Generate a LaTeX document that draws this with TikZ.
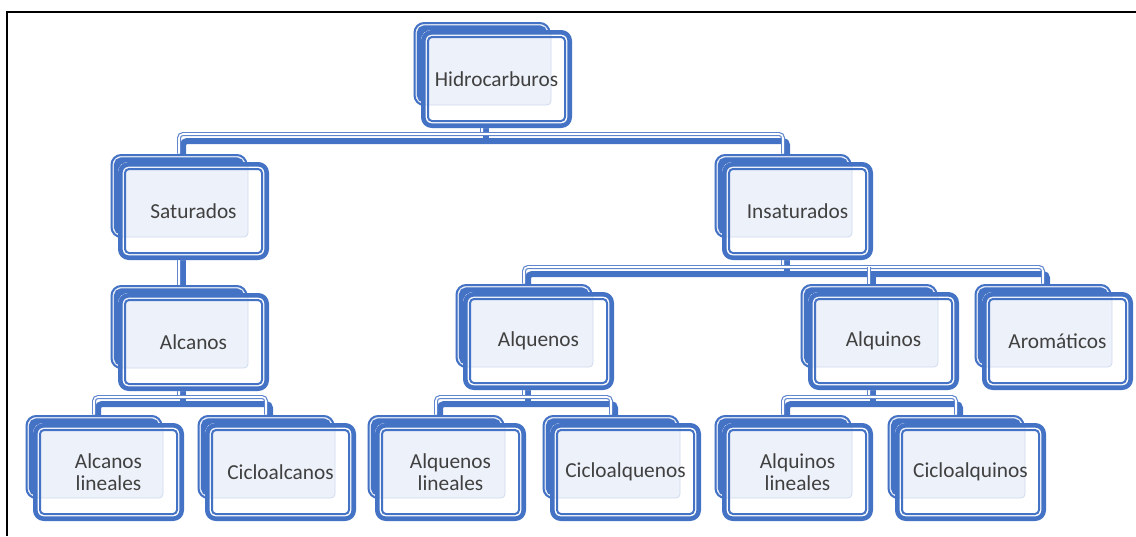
\documentclass[tikz,border=0pt]{standalone}
\usepackage{fontspec}
\setmainfont{Carlito}
\usetikzlibrary{calc,backgrounds}
\definecolor{boxblue}{RGB}{68,114,196}
\definecolor{boxfill}{RGB}{232,237,247}
\definecolor{textgray}{RGB}{64,64,64}

\tikzstyle{back box}=[rounded corners=8pt, minimum width=102.75pt, minimum height=63pt, inner sep=0pt, fill=boxfill, path picture={
	\draw[boxblue, line width=3pt, rounded corners=8pt] (path picture bounding box.south west) rectangle (path picture bounding box.north east);
	\draw[boxblue, line width=5pt, rounded corners=3pt] ([shift={(5.1pt,5.1pt)}]path picture bounding box.south west) rectangle ([shift={(-5.1pt,-5.1pt)}]path picture bounding box.north east);}]
\tikzstyle{front box}=[rounded corners=8pt, minimum width=113.25pt, minimum height=73.5pt, inner sep=2pt, align=center, text=textgray, font=\fontsize{16}{17}\selectfont, fill=white, path picture={
	\draw[boxblue!25, fill=boxfill!80, rounded corners=3pt, line width=0.6pt] (path picture bounding box.north west) rectangle ([shift={(-15.75pt,17.25pt)}]path picture bounding box.south east);
	\draw[boxblue, line width=6.8pt, rounded corners=8pt] (path picture bounding box.south west) rectangle (path picture bounding box.north east);
	\draw[boxblue, line width=1.5pt, rounded corners=3pt] ([shift={(5.25pt,5.25pt)}]path picture bounding box.south west) rectangle ([shift={(-5.25pt,-5.25pt)}]path picture bounding box.north east);}]
\tikzstyle{link}=[rounded corners=3pt, draw=boxblue!85, line width=0.9pt, double=white, double distance=1.2pt]
\tikzstyle{link shade}=[rounded corners=3pt, transform canvas={shift={(3pt,-5.25pt)}}, draw=boxblue, line width=4.5pt]

\begin{document}
\begin{tikzpicture}[x=0.75pt, y=-0.75pt]
	\useasboundingbox (0,0) rectangle (1136,536);
	\draw[line width=1.1pt] (7,536) -- (7,12) -- (1136,12);
	\foreach \x/\y/\name/\txt in {496.5/79/hid/Hidrocarburos, 193.5/211/sat/Saturados, 797.5/211/ins/Insaturados,
	        193.5/342/alc/Alcanos, 538.5/341/alq/Alquenos, 883.5/341/alqn/Alquinos, 1057.5/341/aro/Aromáticos,
	        108.5/472/alcl/{Alcanos\\lineales}, 280.5/472/cicla/Cicloalcanos, 450.5/472/alql/{Alquenos\\lineales},
	        625.5/472/ciclq/Cicloalquenos, 797.5/472/alqnl/{Alquinos\\lineales}, 970.5/472/ciclqn/Cicloalquinos}
	{
	    \node[back box] (\name b) at ([shift={(-14.5,-15)}]\x,\y) {};
	    \node[front box] (\name) at (\x,\y) {\txt};
	}
	\coordinate (bar1) at (0,134);
	\coordinate (bar2) at (0,267);
	\coordinate (bar3) at (0,397);
	\begin{scope}[on background layer]
	    \foreach \lk in {link shade, link}
	    {
	        \draw[\lk] (hidb) -- (hidb |- bar1);
	        \draw[\lk] (satb) |- (insb |- bar1) -- (insb);
	        \draw[\lk] (satb) -- (alcb);
	        \draw[\lk] (insb) -- (insb |- bar2);
	        \draw[\lk] (alqb) |- (arob |- bar2) -- (arob);
	        \draw[\lk] (alqnb) -- (alqnb |- bar2);
	        \draw[\lk] (alcb) -- (alcb |- bar3);
	        \draw[\lk] (alclb) |- (ciclab |- bar3) -- (ciclab);
	        \draw[\lk] (alqb) -- (alqb |- bar3);
	        \draw[\lk] (alqlb) |- (ciclqb |- bar3) -- (ciclqb);
	        \draw[\lk] (alqnb) -- (alqnb |- bar3);
	        \draw[\lk] (alqnlb) |- (ciclqnb |- bar3) -- (ciclqnb);
	    }
	\end{scope}
\end{tikzpicture}
\end{document}
